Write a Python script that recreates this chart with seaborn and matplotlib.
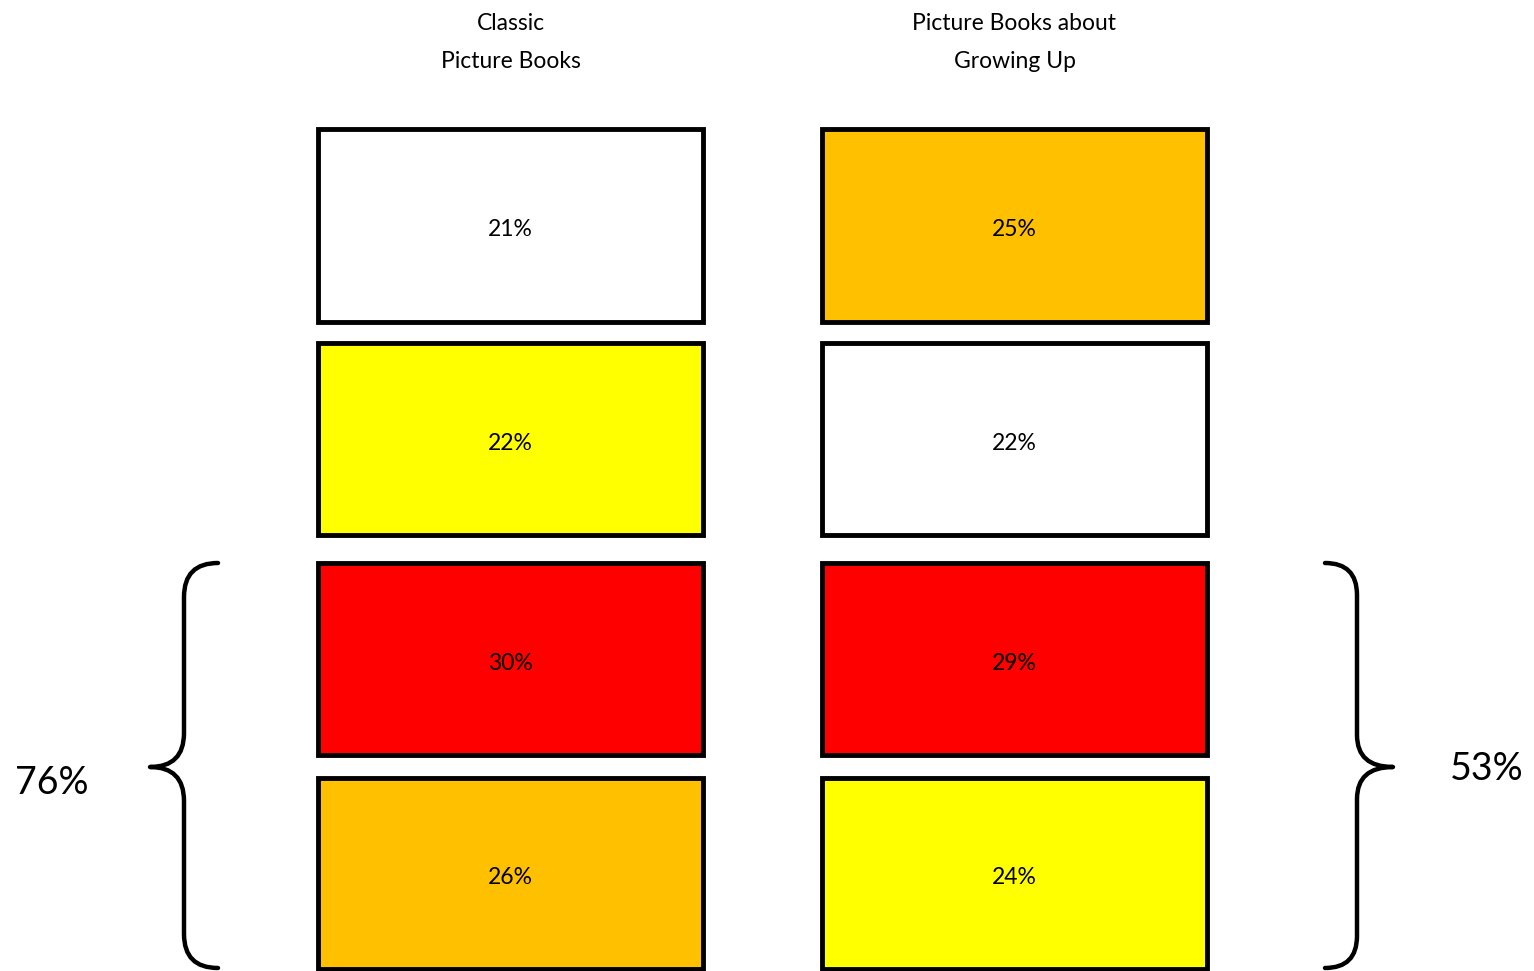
import matplotlib
matplotlib.use("Agg")
import matplotlib.pyplot as plt
import seaborn as sns
import pandas as pd
from matplotlib.patches import Rectangle, PathPatch
from matplotlib.path import Path

# ---- data ----
columns = ["Classic\nPicture Books", "Picture Books about\nGrowing Up"]
classic_values = [21, 22, 30, 26]
classic_colors = ["#FFFFFF", "#FFFF00", "#FF0000", "#FFC000"]
growing_values = [25, 22, 29, 24]
growing_colors = ["#FFC000", "#FFFFFF", "#FF0000", "#FFFF00"]
bracket_labels = ["76%", "53%"]

sns.set_theme(style="white")
plt.rcParams['font.family'] = ['Lato', 'DejaVu Sans']
plt.rcParams['text.color'] = 'black'

df = pd.DataFrame({
    "col": [0]*4 + [1]*4,
    "row": list(range(4))*2,
    "value": classic_values + growing_values,
    "color": classic_colors + growing_colors,
})

fig = plt.figure(figsize=(15.34, 9.71), dpi=100)
ax = fig.add_axes([0, 0, 1, 1])
ax.set_xlim(0, 1534)
ax.set_ylim(971, 0)
ax.axis("off")

col_x = [318, 822]
box_w = 385
row_y = [129, 343, 563, 778]
box_h = [193, 192, 192, 191]

for _, r in df.iterrows():
    x0 = col_x[r.col]
    y0 = row_y[r.row]
    h = box_h[r.row]
    ax.add_patch(Rectangle((x0, y0), box_w, h, facecolor=r.color,
                           edgecolor="black", linewidth=3.5, zorder=2))
    ax.text(x0 + box_w / 2, y0 + h / 2 + 4, f"{r.value}%", ha="center",
            va="center", fontsize=16.5, color="black", zorder=3)

for i, name in enumerate(columns):
    lines = name.split("\n")
    cx = col_x[i] + box_w / 2
    ax.text(cx, 23, lines[0], ha="center", va="center", fontsize=16.5, color="black")
    ax.text(cx, 62, lines[1], ha="center", va="center", fontsize=16.5, color="black")


def brace(ax, x_end, x_mid, x_tip, y_top, y_tip, y_bot):
    r = abs(x_mid - x_end)
    verts = [(x_end, y_top), (x_mid, y_top), (x_mid, y_top + r),
             (x_mid, y_tip - r), (x_mid, y_tip), (x_tip, y_tip),
             (x_mid, y_tip), (x_mid, y_tip + r),
             (x_mid, y_bot - r), (x_mid, y_bot), (x_end, y_bot)]
    codes = [Path.MOVETO, Path.CURVE3, Path.CURVE3,
             Path.LINETO, Path.CURVE3, Path.CURVE3,
             Path.CURVE3, Path.CURVE3,
             Path.LINETO, Path.CURVE3, Path.CURVE3]
    ax.add_patch(PathPatch(Path(verts, codes), facecolor="none",
                           edgecolor="black", linewidth=3.2,
                           capstyle="round", joinstyle="round", zorder=2))

brace(ax, 218, 184, 150, 563, 767, 968)
brace(ax, 1325, 1357, 1393, 563, 767, 968)

ax.text(52, 783, bracket_labels[0], ha="center", va="center", fontsize=27, color="black")
ax.text(1487, 769, bracket_labels[1], ha="center", va="center", fontsize=27, color="black")

fig.savefig("out.png", dpi=100, facecolor="white")
